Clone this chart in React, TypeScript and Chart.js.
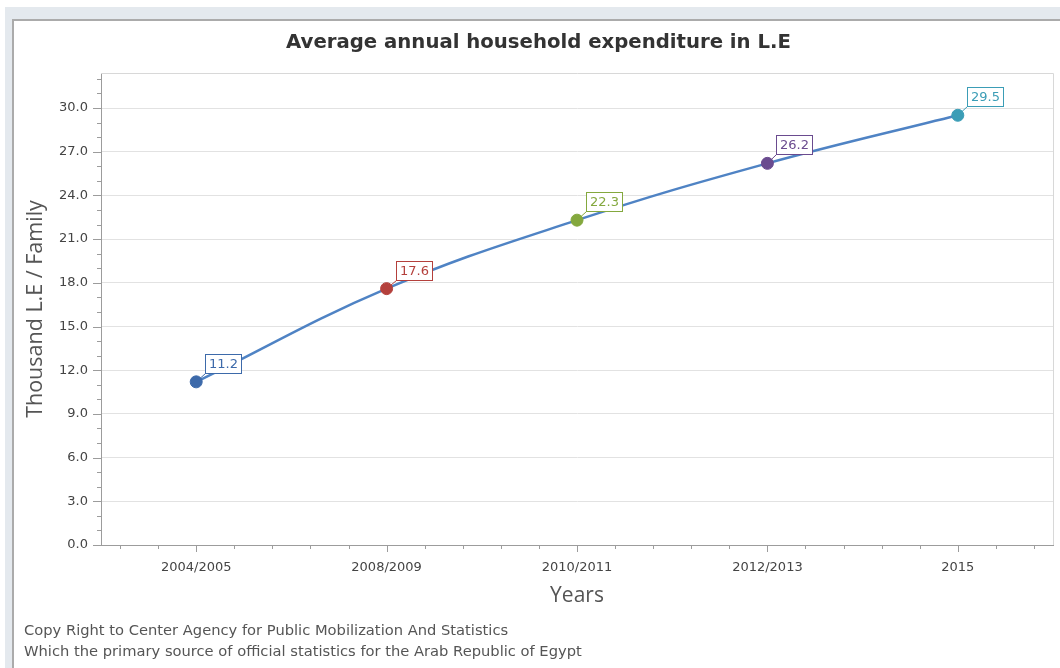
import { useEffect, useRef } from 'react';
import { Chart, registerables } from 'chart.js';

Chart.register(...registerables);

// Survey years and average household spending (thousand L.E per family)
const years = ['2004/2005', '2008/2009', '2010/2011', '2012/2013', '2015'];
const spending = [11.2, 17.6, 22.3, 26.2, 29.5];
const pointColors = ['#3d6aaa', '#b4403c', '#84a83e', '#6a4b8f', '#3b9db6'];

// Value axis: labelled every 3, minor marks every 1
const yMax = 32.4;
const majorStep = 3;
const minorStep = 1;
const yTickValues = [0, 3, 6, 9, 12, 15, 18, 21, 24, 27, 30];

const footerLines = [
  'Copy Right to Center Agency for Public Mobilization And Statistics',
  'Which the primary source of official statistics for the Arab Republic of Egypt',
];

const W = 1060;
const H = 668;
const PAD_LEFT = 24;
const PLOT_LEFT = 101;
const PLOT_BOTTOM = 545;
const PAD_BOTTOM = 50;

const tickFont = { family: '"DejaVu Sans", Verdana, sans-serif', size: 13 };
const axisColor = '#9c9c9c';

// Major/minor tick marks outside the plot on both axes
const tickMarks = {
  id: 'tickMarks',
  afterDraw(chart: any) {
    const { ctx, chartArea, scales } = chart;
    const x = scales.x;
    const y = scales.y;
    ctx.save();
    ctx.strokeStyle = axisColor;
    ctx.lineWidth = 1;
    ctx.beginPath();
    for (let v = 0; v <= yMax + 1e-9; v += minorStep) {
      const py = Math.round(y.getPixelForValue(v)) + 0.5;
      const len = Math.abs(v % majorStep) < 1e-9 ? 8 : 4;
      ctx.moveTo(chartArea.left - len, py);
      ctx.lineTo(chartArea.left, py);
    }
    for (let i = 0; i < years.length; i++) {
      for (let k = -2; k <= 2; k++) {
        const px = Math.round(x.getPixelForValue(i + k * 0.2)) + 0.5;
        const len = k === 0 ? 7 : 4;
        ctx.moveTo(px, chartArea.bottom);
        ctx.lineTo(px, chartArea.bottom + len);
      }
    }
    ctx.stroke();
    // light frame on the top and right of the plot
    ctx.strokeStyle = '#d8d8d8';
    ctx.beginPath();
    ctx.moveTo(chartArea.left, Math.round(chartArea.top) + 0.5);
    ctx.lineTo(Math.round(chartArea.right) + 0.5, Math.round(chartArea.top) + 0.5);
    ctx.lineTo(Math.round(chartArea.right) + 0.5, chartArea.bottom);
    ctx.stroke();
    ctx.restore();
  },
};

// Boxed value labels up and to the right of each point, with a short leader
const valueLabels = {
  id: 'valueLabels',
  afterDatasetsDraw(chart: any) {
    const { ctx } = chart;
    const meta = chart.getDatasetMeta(0);
    ctx.save();
    ctx.font = '13px "DejaVu Sans", Verdana, sans-serif';
    ctx.textBaseline = 'middle';
    ctx.textAlign = 'left';
    meta.data.forEach((pt: any, i: number) => {
      const color = pointColors[i];
      const text = spending[i].toFixed(1);
      const tw = ctx.measureText(text).width;
      const bw = Math.round(tw + 7);
      const bh = 19;
      const bx = Math.round(pt.x + 9) + 0.5;
      const by = Math.round(pt.y - 9 - bh) + 0.5;
      ctx.strokeStyle = color;
      ctx.lineWidth = 1;
      ctx.beginPath();
      ctx.moveTo(pt.x, pt.y);
      ctx.lineTo(bx, by + bh);
      ctx.stroke();
      ctx.fillStyle = '#ffffff';
      ctx.fillRect(bx, by, bw, bh);
      ctx.strokeRect(bx, by, bw, bh);
      ctx.fillStyle = color;
      ctx.fillText(text, bx + 3.5, by + bh / 2 + 0.5);
    });
    ctx.restore();
  },
};

export default function App() {
  const canvasRef = useRef<HTMLCanvasElement | null>(null);

  useEffect(() => {
    const canvas = canvasRef.current;
    if (!canvas) return;
    const chart = new Chart(canvas, {
      type: 'line',
      data: {
        labels: years,
        datasets: [
          {
            data: spending,
            borderColor: '#4f83c4',
            borderWidth: 2.5,
            tension: 0.4,
            pointRadius: 6,
            pointHoverRadius: 6,
            pointBackgroundColor: pointColors,
            pointBorderColor: pointColors,
            pointBorderWidth: 1,
            fill: false,
          },
        ],
      },
      options: {
        responsive: false,
        animation: false,
        events: [],
        layout: { padding: { left: PAD_LEFT, right: 7, top: 0, bottom: PAD_BOTTOM } },
        plugins: {
          legend: { display: false },
          tooltip: { enabled: false },
          title: {
            display: true,
            text: 'Average annual household expenditure in L.E',
            color: '#333333',
            font: { family: '"DejaVu Sans", Verdana, sans-serif', size: 19.7, weight: 'bold', lineHeight: 1.2 },
            padding: { top: 31.5, bottom: 17.9 },
          },
        },
        scales: {
          x: {
            type: 'category',
            offset: true,
            grid: { display: false, drawTicks: false },
            border: { display: true, color: axisColor },
            ticks: { color: '#444444', font: tickFont, padding: 15, maxRotation: 0 },
            title: {
              display: true,
              text: 'Years',
              color: '#555555',
              font: { family: '"Open Sans", sans-serif', size: 21, lineHeight: 1.2 },
              padding: { top: 0, bottom: 9.5 },
            },
            afterFit: (s: any) => {
              s.height = H - PAD_BOTTOM - PLOT_BOTTOM;
            },
          },
          y: {
            min: 0,
            max: yMax,
            afterBuildTicks: (s: any) => {
              s.ticks = yTickValues.map((v) => ({ value: v }));
            },
            grid: { color: '#e2e2e2', drawTicks: false },
            border: { display: true, color: axisColor },
            ticks: {
              color: '#444444',
              font: tickFont,
              padding: 13,
              callback: (v: any) => Number(v).toFixed(1),
            },
            title: {
              display: true,
              text: 'Thousand L.E / Family',
              color: '#555555',
              font: { family: '"Open Sans", sans-serif', size: 21.5, lineHeight: 1.2 },
              padding: { top: -1, bottom: 0 },
            },
            afterFit: (s: any) => {
              s.width = PLOT_LEFT - PAD_LEFT;
            },
          },
        },
      },
      plugins: [tickMarks, valueLabels],
    });
    return () => chart.destroy();
  }, []);

  return (
    <div style={{ position: 'fixed', left: 0, top: 0, width: W, height: H, background: '#ffffff', overflow: 'hidden' }}>
      <div style={{ position: 'absolute', left: 5, top: 7, right: 0, bottom: 0, background: '#e4e9ee' }} />
      <div
        style={{
          position: 'absolute',
          left: 12,
          top: 19,
          width: W,
          height: H,
          background: '#ffffff',
          borderLeft: '2px solid #ababab',
          borderTop: '2px solid #ababab',
        }}
      />
      <canvas ref={canvasRef} width={W} height={H} style={{ position: 'absolute', left: 0, top: 0, width: W, height: H }} />
      <div
        style={{
          position: 'absolute',
          left: 24,
          top: 619,
          fontFamily: '"DejaVu Sans", Verdana, sans-serif',
          fontSize: 14.7,
          lineHeight: '21px',
          color: '#555555',
        }}
      >
        {footerLines.map((t) => (
          <div key={t}>{t}</div>
        ))}
      </div>
    </div>
  );
}
